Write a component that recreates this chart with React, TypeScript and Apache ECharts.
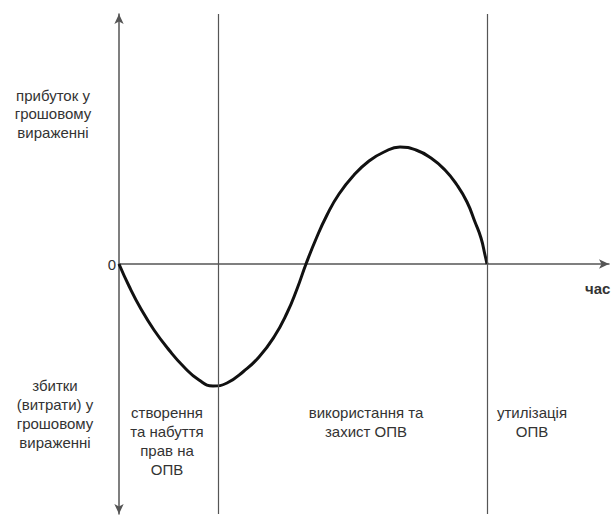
import React, { useEffect, useRef } from "react";
import * as echarts from "echarts";

// time (arbitrary units from the origin) and money value (positive = profit, negative = loss)
const timePoints = [0, 10, 22, 35, 50, 65, 80, 94, 108, 125, 140, 155, 168, 178, 187, 197, 208, 220, 235, 250, 265, 281, 297, 312, 326, 338, 348, 356, 362, 366, 368];
const moneyValues = [0, -22, -45, -66, -86, -103, -116, -122, -119, -107, -93, -73, -49, -25, 0, 25, 49, 70, 89, 103, 112, 117, 114, 106, 94, 79, 62, 42, 26, 9, 0];
const stageBoundaries = [99, 368];

const upperLabel = "прибуток у\nгрошовому\nвираженні";
const lowerLabel = "збитки\n(витрати) у\nгрошовому\nвираженні";
const stageLabels = ["створення\nта набуття\nправ на\nОПВ", "використання та\nзахист ОПВ", "утилізація\nОПВ"];
const zeroLabel = "0";
const timeLabel = "час";

export default function App() {
  const ref = useRef<HTMLDivElement>(null);
  useEffect(() => {
    if (!ref.current) return;
    const chart = echarts.init(ref.current, null, { renderer: "svg" });
    const font = "'Liberation Sans', Arial, sans-serif";
    const txt = (text: string, x: number, y: number, lh: number, extra: any = {}) => ({
      type: "text",
      x,
      y,
      silent: true,
      style: {
        text,
        fontFamily: font,
        fontSize: 15,
        lineHeight: lh,
        fill: "#333",
        align: "center",
        verticalAlign: "top",
        ...extra,
      },
    });
    chart.setOption({
      animation: false,
      backgroundColor: "#fff",
      grid: { left: 119, right: 2, top: 14, bottom: 1 },
      xAxis: {
        type: "value",
        min: 0,
        max: 490,
        axisLine: {
          show: true,
          onZero: true,
          symbol: ["none", "arrow"],
          symbolSize: [7, 10],
          lineStyle: { color: "#555", width: 1.5 },
        },
        axisTick: { show: false },
        axisLabel: { show: false },
        splitLine: { show: false },
      },
      yAxis: {
        type: "value",
        min: -250,
        max: 250,
        axisLine: {
          show: true,
          symbol: ["arrow", "arrow"],
          symbolSize: [7, 10],
          lineStyle: { color: "#555", width: 1.5 },
        },
        axisTick: { show: false },
        axisLabel: { show: false },
        splitLine: { show: false },
      },
      series: [
        {
          type: "line",
          data: timePoints.map((t, i) => [t, moneyValues[i]]),
          smooth: 0.5,
          symbol: "none",
          lineStyle: { color: "#111", width: 3 },
          markLine: {
            silent: true,
            symbol: ["none", "none"],
            label: { show: false },
            lineStyle: { color: "#555", width: 1.2, type: "solid" },
            data: stageBoundaries.map((b) => ({ xAxis: b })),
          },
        },
      ],
      graphic: [
        txt(upperLabel, 53, 86, 18.5),
        txt(lowerLabel, 55, 376, 19),
        txt(stageLabels[0], 167, 403, 19),
        txt(stageLabels[1], 366, 403, 19),
        txt(stageLabels[2], 532, 403, 19),
        txt(zeroLabel, 116, 256, 16, { align: "right" }),
        txt(timeLabel, 585, 280, 16, { align: "left", fontWeight: "bold" }),
      ],
    });
    return () => chart.dispose();
  }, []);
  return <div ref={ref} style={{ position: "fixed", left: 0, top: 0, width: 611, height: 515 }} />;
}
